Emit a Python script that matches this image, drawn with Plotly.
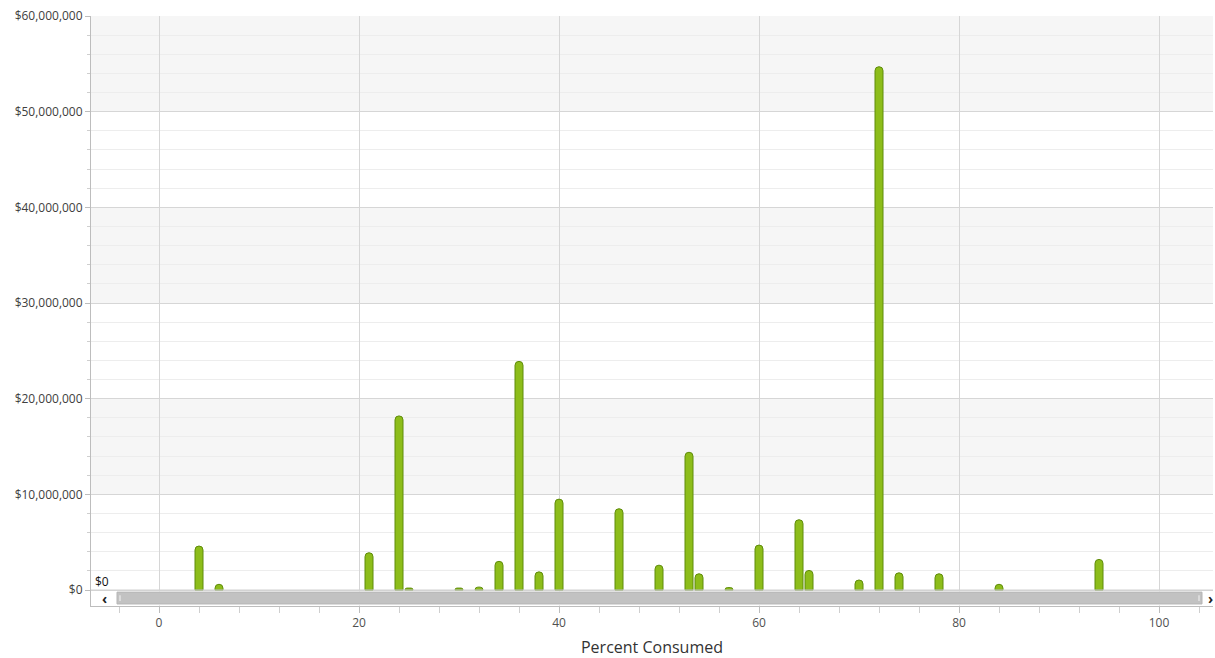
import plotly.graph_objects as go

# Data
percent_consumed = [4, 6, 21, 24, 25, 30, 32, 34, 36, 38, 40, 46, 50, 53, 54, 57,
                    60, 64, 65, 70, 72, 74, 78, 84, 94]
amount_musd = [4.6, 0.6, 3.9, 18.2, 0.2, 0.2, 0.3, 3.0, 23.9, 1.9, 9.5, 8.5, 2.6, 14.4, 1.7, 0.25,
               4.7, 7.35, 2.05, 1.05, 54.7, 1.8, 1.7, 0.6, 3.2]
amounts = [v * 1e6 for v in amount_musd]

y_ticks = [0, 10e6, 20e6, 30e6, 40e6, 50e6, 60e6]
y_tick_labels = ["$0", "$10,000,000", "$20,000,000", "$30,000,000",
                 "$40,000,000", "$50,000,000", "$60,000,000"]
x_ticks = [0, 20, 40, 60, 80, 100]

x_range = [-6.8, 105.4]
y_range = [-1.672e6, 60e6]

fig = go.Figure()
fig.add_trace(go.Bar(
    x=percent_consumed, y=amounts, width=0.8,
    marker=dict(color="#8dbd1a", line=dict(color="#5f8c0a", width=1), cornerradius=4),
    hoverinfo="x+y",
))

shapes = []
# alternating bands
for lo in [10e6, 30e6, 50e6]:
    shapes.append(dict(type="rect", xref="x", yref="y", x0=-20, x1=120, y0=lo, y1=lo + 10e6,
                       fillcolor="#f6f6f6", line=dict(width=0), layer="below"))
# scrollbar area
shapes.append(dict(type="rect", xref="paper", yref="y", x0=0.001, x1=1, y0=y_range[0] + 0.05e6, y1=-0.12e6,
                   fillcolor="#ffffff", line=dict(width=0), layer="above"))
shapes.append(dict(type="rect", xref="x", yref="y", x0=-4.2, x1=104.3, y0=-1.46e6, y1=-0.22e6,
                   fillcolor="#c2c2c2", line=dict(color="#b5b5b5", width=1), layer="above"))
shapes.append(dict(type="line", xref="x", yref="y", x0=-3.9, x1=-3.9, y0=-1.15e6, y1=-0.55e6,
                   line=dict(color="#f4f4f4", width=1), layer="above"))
shapes.append(dict(type="line", xref="x", yref="y", x0=104.0, x1=104.0, y0=-1.15e6, y1=-0.55e6,
                   line=dict(color="#f4f4f4", width=1), layer="above"))
shapes.append(dict(type="line", xref="paper", yref="y", x0=0, x1=1, y0=0, y1=0,
                   line=dict(color="#d0d0d0", width=1), layer="above"))

annotations = [
    dict(text="$0", xref="paper", yref="y", x=0.002, y=-0.25e6, xanchor="left", yanchor="bottom",
         showarrow=False, font=dict(size=12, color="#111111", family="Open Sans")),
    dict(text="<b>‹</b>", xref="x", yref="y", x=-5.5, y=-0.84e6, xanchor="center", yanchor="middle",
         showarrow=False, font=dict(size=14, color="#222222", family="Open Sans")),
    dict(text="<b>›</b>", xref="x", yref="y", x=105.1, y=-0.84e6, xanchor="center", yanchor="middle",
         showarrow=False, font=dict(size=14, color="#222222", family="Open Sans")),
]

fig.update_layout(
    width=1215, height=658,
    margin=dict(l=91, r=2, t=16, b=52),
    paper_bgcolor="white", plot_bgcolor="white",
    showlegend=False,
    font=dict(family="Open Sans", size=12, color="#404040"),
    shapes=shapes, annotations=annotations,
    xaxis=dict(
        range=x_range, tickvals=x_ticks, ticktext=[str(v) for v in x_ticks],
        automargin=False,
        showgrid=True, gridcolor="#d6d6d6", gridwidth=1,
        zeroline=False, showline=True, linecolor="#bdbdbd",
        ticks="outside", ticklen=6, tickcolor="#bdbdbd",
        tickfont=dict(size=12, color="#505050"),
        minor=dict(dtick=4, tick0=0, ticks="outside", ticklen=6, tickcolor="#cfcfcf", showgrid=False),
        title=dict(text="Percent Consumed", font=dict(size=16, color="#333333")),
    ),
    yaxis=dict(
        range=y_range, tickvals=y_ticks, ticktext=y_tick_labels,
        automargin=False,
        showgrid=True, gridcolor="#d6d6d6", gridwidth=1,
        zeroline=False, showline=True, linecolor="#bdbdbd",
        ticks="outside", ticklen=5, tickcolor="#bdbdbd",
        tickfont=dict(size=12, color="#404040"),
        minor=dict(dtick=2e6, tick0=0, ticks="outside", ticklen=3, tickcolor="#cfcfcf",
                   showgrid=True, gridcolor="#ededed", gridwidth=1),
    ),
)

fig.write_html(
    "out.html",
    config={"displayModeBar": False},
    post_script="document.body.style.margin='0';document.body.style.overflow='hidden';",
)
